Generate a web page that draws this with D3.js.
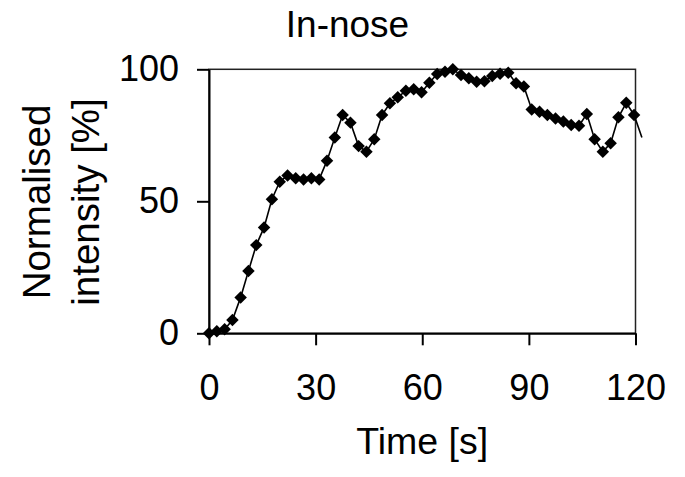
<!DOCTYPE html>
<html>
<head>
<meta charset="utf-8">
<script src="https://cdn.jsdelivr.net/npm/d3@7"></script>
<style>
  body { margin: 0; background: #fff; }
  svg text { font-family: "Liberation Sans", Arial, sans-serif; fill: #000; }
</style>
</head>
<body>
<div id="chart"></div>
<script>
// Time in seconds
var times = [0, 2.2, 4.4, 6.6, 8.9, 11.1, 13.3, 15.5, 17.7, 19.9,
  22.1, 24.4, 26.6, 28.8, 31.0, 33.2, 35.4, 37.6, 39.8, 42.1,
  44.3, 46.5, 48.7, 50.9, 53.1, 55.4, 57.6, 59.8, 62.0, 64.2,
  66.4, 68.6, 70.9, 73.1, 75.3, 77.5, 79.7, 81.9, 84.2, 86.4,
  88.6, 90.8, 93.0, 95.2, 97.5, 99.7, 101.9, 104.1, 106.3, 108.5,
  110.8, 113.0, 115.2, 117.4, 119.6, 121.8];
// Normalised intensity [%]
var intensity = [0, 0.8, 1.5, 5, 13.6, 23.6, 33.4, 40.1, 50.8, 57.4,
  59.8, 58.7, 58.3, 58.7, 58.3, 65.4, 74.2, 82.7, 79.8, 70.9,
  68.8, 73.5, 82.7, 87.1, 89.4, 91.9, 92.4, 91.3, 94.9, 98.2,
  99.1, 100, 97.8, 96.6, 95.3, 95.5, 97.5, 98.3, 98.7, 94.7,
  93.5, 84.8, 83.9, 82.7, 81.4, 80.2, 78.9, 78.6, 83.1, 73.5,
  68.8, 72, 81.8, 87.3, 82.7, 74.2];
var xTicks = [0, 30, 60, 90, 120];
var yTicks = [0, 50, 100];

var W = 685, H = 477;
var mLeft = 209, mRight = 635.5, mTop = 69.3, mBottom = 333.3;

var svg = d3.select("#chart")
  .append("svg")
  .attr("width", W)
  .attr("height", H);

var data = times.map(function(t, i) { return {t: t, v: intensity[i]}; });

var xScale = d3.scaleLinear().domain([0, 120]).range([mLeft, mRight]);
var yScale = d3.scaleLinear().domain([0, 100]).range([mBottom, mTop]);

// plot area frame (top and right edges)
svg.append("rect")
  .attr("x", mLeft)
  .attr("y", mTop)
  .attr("width", mRight - mLeft)
  .attr("height", mBottom - mTop)
  .attr("fill", "none")
  .attr("stroke", "#222")
  .attr("stroke-width", 1.5);

var xAxis = d3.axisBottom(xScale).tickValues(xTicks).tickSize(12).tickSizeOuter(0).tickPadding(29);
var yAxis = d3.axisLeft(yScale).tickValues(yTicks).tickSize(12).tickSizeOuter(0).tickPadding(18);

var gx = svg.append("g").attr("transform", "translate(0," + mBottom + ")").call(xAxis);
var gy = svg.append("g").attr("transform", "translate(" + mLeft + ",0)").call(yAxis);

[gx, gy].forEach(function(g) {
  g.selectAll("path, line").attr("stroke", "#000").attr("stroke-width", 2);
  g.selectAll("text")
    .style("font-family", "'Liberation Sans', Arial, sans-serif")
    .style("font-size", "36px")
    .attr("fill", "#000");
});

// line
var line = d3.line()
  .x(function(d) { return xScale(d.t); })
  .y(function(d) { return yScale(d.v); });

svg.append("path")
  .datum(data)
  .attr("fill", "none")
  .attr("stroke", "#000")
  .attr("stroke-width", 1.6)
  .attr("d", line);

// diamond markers (only inside the axis range)
var diamond = d3.symbol().type(d3.symbolSquare).size(78);
svg.selectAll(".mark")
  .data(data.filter(function(d) { return d.t <= 120; }))
  .enter()
  .append("path")
  .attr("class", "mark")
  .attr("d", diamond)
  .attr("fill", "#000")
  .attr("transform", function(d) {
    return "translate(" + xScale(d.t) + "," + yScale(d.v) + ") rotate(45)";
  });

// title
svg.append("text")
  .attr("x", 347.5)
  .attr("y", 37.3)
  .attr("text-anchor", "middle")
  .style("font-size", "37px")
  .text("In-nose");

// x label
svg.append("text")
  .attr("x", (mLeft + mRight) / 2)
  .attr("y", 453.5)
  .attr("text-anchor", "middle")
  .style("font-size", "37.5px")
  .text("Time [s]");

// y label, two lines
var yl = svg.append("text")
  .attr("transform", "translate(50,202) rotate(-90)")
  .attr("text-anchor", "middle")
  .style("font-size", "38.5px");
yl.append("tspan").attr("x", 0).attr("y", 0).text("Normalised");
yl.append("tspan").attr("x", 0).attr("y", 49).text("intensity [%]");
</script>
</body>
</html>
